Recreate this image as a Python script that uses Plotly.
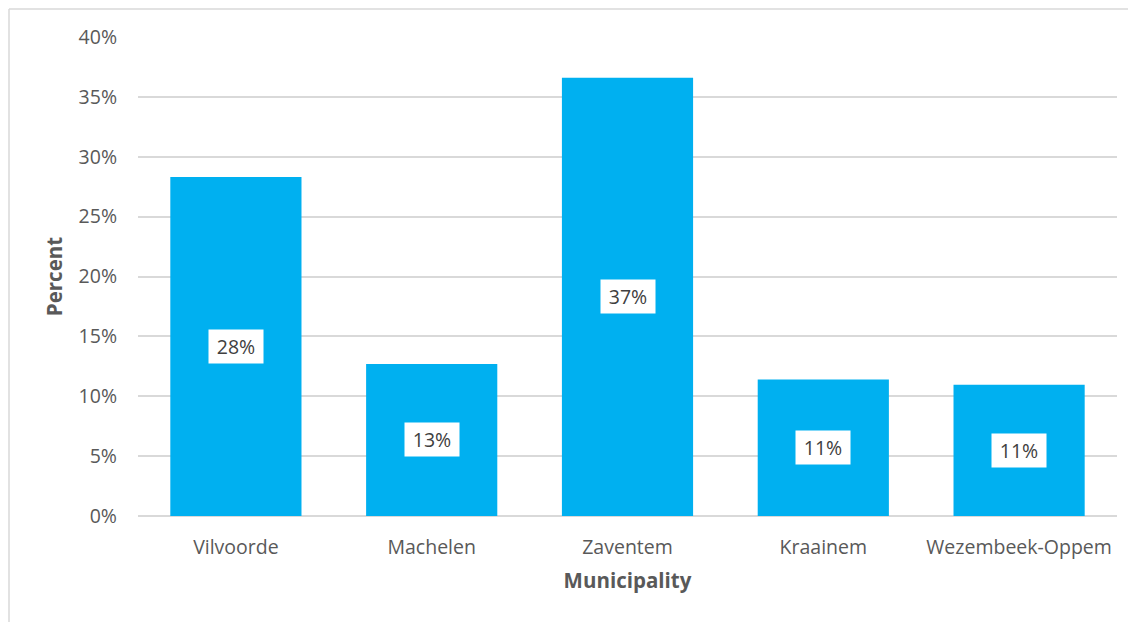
import plotly.graph_objects as go

municipalities = ['Vilvoorde', 'Machelen', 'Zaventem', 'Kraainem', 'Wezembeek-Oppem']
percent = [28.3, 12.7, 36.6, 11.4, 10.95]
labels = ['28%', '13%', '37%', '11%', '11%']
tick_vals = [0, 5, 10, 15, 20, 25, 30, 35, 40]
tick_text = ['0%', '5%', '10%', '15%', '20%', '25%', '30%', '35%', '40%']

# the page body adds an 8px margin, so the figure is placed at (8, 8)
W, H = 1136, 622
L, R, T, B = 130, 27, 29, 114
FONT = 'Open Sans, sans-serif'

fig = go.Figure()
fig.add_trace(go.Bar(x=municipalities, y=percent, marker_color='#00B0F0',
                     marker_line_width=0, hoverinfo='x+y'))

# data labels in white boxes at the middle of each bar
for m, v, lab in zip(municipalities, percent, labels):
    fig.add_annotation(x=m, y=v / 2, text=lab, showarrow=False,
                       bgcolor='white', borderpad=6, width=42, height=21,
                       font=dict(family=FONT, size=19.5, color='#404040'))

# chart frame (left and top edges visible)
px = (1 - L) / (W - L - R)
py = 1 + (T - 1) / (H - T - B)
fig.add_shape(type='line', xref='paper', yref='paper', x0=px, x1=px, y0=py, y1=-0.3,
              line=dict(color='#D9D9D9', width=1.5))
fig.add_shape(type='line', xref='paper', yref='paper', x0=px, x1=1.1, y0=py, y1=py,
              line=dict(color='#D9D9D9', width=1.5))

fig.update_layout(
    width=W, height=H,
    margin=dict(l=L, r=R, t=T, b=B),
    plot_bgcolor='white', paper_bgcolor='white',
    bargap=0.33, showlegend=False,
    font=dict(family=FONT, size=19.5, color='#595959'),
    xaxis=dict(title=dict(text='<b>Municipality</b>', font=dict(size=20.5, color='#595959'), standoff=15),
               showline=False, ticks='', showgrid=False, ticklabelstandoff=17),
    yaxis=dict(title=dict(text='<b>Percent</b>', font=dict(size=20.5, color='#595959'), standoff=10),
               range=[0, 40], tickvals=tick_vals, ticktext=tick_text,
               showgrid=True, gridcolor='#D9D9D9', gridwidth=1.5,
               zeroline=True, zerolinecolor='#D9D9D9', zerolinewidth=1.5,
               ticks='', ticklabelstandoff=20),
)

fig.write_html("out.html")
